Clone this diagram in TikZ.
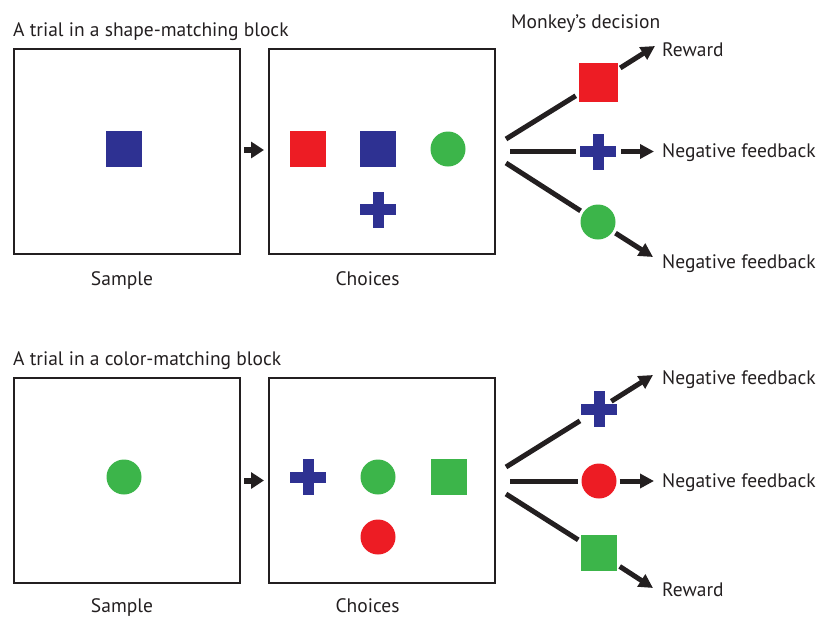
\documentclass[tikz,border=0pt]{standalone}
\usepackage{fontspec}
\setmainfont{PT Sans}
\usetikzlibrary{arrows.meta}
\definecolor{cred}{HTML}{ED1C24}
\definecolor{cblue}{HTML}{2E3192}
\definecolor{cgreen}{HTML}{3CB54A}
\definecolor{ink}{HTML}{231F20}
\begin{document}
\begin{tikzpicture}[x=1pt,y=-1pt,
  panel/.style={draw=ink, line width=2pt, minimum width=226pt, minimum height=205pt, inner sep=0pt},
  sq/.style={fill=#1, minimum size=36pt, inner sep=0pt},
  dot/.style={circle, fill=#1, minimum size=35pt, inner sep=0pt},
  crs/.style={minimum size=36pt, inner sep=0pt,
    path picture={
      \fill[cblue] ([xshift=-5.5pt,yshift=-18pt]path picture bounding box.center) rectangle ++(11pt,36pt);
      \fill[cblue] ([xshift=-18pt,yshift=-5.5pt]path picture bounding box.center) rectangle ++(36pt,11pt);
    }},
  lbl/.style={font=\fontsize{19.5}{23}\selectfont, text=ink, inner sep=0pt, anchor=base west},
  caplbl/.style={font=\fontsize{19.5}{23}\selectfont, text=ink, inner sep=0pt, anchor=base},
  fan/.style={draw=ink, line width=5pt, shorten >=3pt},
  arr/.style={draw=ink, line width=5pt, shorten <=3pt, -{Triangle[length=14pt,width=14pt]}},
  small/.style={draw=ink, line width=6pt, -{Triangle[length=13pt,width=16pt]}, shorten <=3pt, shorten >=3.5pt}
]
\useasboundingbox (0,0) rectangle (826,616);

% ---------- top: shape-matching ----------
\node[lbl] (title1) at (13,36) {A trial in a shape-matching block};
\node[lbl] (monkey) at (511,28) {Monkey’s decision};

\node[panel] (s1) at (127,151.5) {};
\node[panel] (c1) at (381.5,151.5) {};
\node[caplbl] (samp1) at (122,285) {Sample};
\node[caplbl] (choi1) at (367.5,285) {Choices};

\node[sq=cblue] (s1blue) at (124,149) {};
\node[sq=cred] (c1red) at (308,149) {};
\node[sq=cblue] (c1blue) at (378,149) {};
\node[dot=cgreen] (c1green) at (448,149) {};
\node[crs] (c1cross) at (378,209.5) {};

\draw[small] ([yshift=1.5pt]s1.east) -- ([yshift=1.5pt]c1.west);

\coordinate (f1) at (506,139);
\coordinate (f2) at (510,151.5);
\coordinate (f3) at (506,163);
\node[sq=cred, minimum size=39pt] (d1) at (598,82) {};
\node[crs] (d2) at (598,151.5) {};
\node[dot=cgreen] (d3) at (598,222) {};
\coordinate (t1) at (655,46);
\coordinate (t2) at (654,151.5);
\coordinate (t3) at (653,257);
\draw[fan] (f1) -- (d1);
\draw[fan, shorten >=4pt] (f2) -- (d2);
\draw[fan] (f3) -- (d3);
\draw[arr] (d1) -- (t1);
\draw[arr, shorten <=5pt] (d2) -- (t2);
\draw[arr] (d3) -- (t3);
\node[lbl] (r1) at (662,56) {Reward};
\node[lbl] (n1) at (662,157) {Negative feedback};
\node[lbl] (n2) at (662,268) {Negative feedback};

% ---------- bottom: color-matching ----------
\node[lbl] (title2) at (13,365) {A trial in a color-matching block};

\node[panel] (s2) at (127,480.5) {};
\node[panel] (c2) at (381.5,480.5) {};
\node[caplbl] (samp2) at (122,612) {Sample};
\node[caplbl] (choi2) at (367.5,612) {Choices};

\node[dot=cgreen] (s2green) at (124,477) {};
\node[crs] (c2cross) at (308,477) {};
\node[dot=cgreen] (c2green) at (378,477) {};
\node[sq=cgreen] (c2sq) at (449,477) {};
\node[dot=cred] (c2red) at (378,537) {};

\draw[small] (s2.east) -- (c2.west);

\coordinate (g1) at (506,467);
\coordinate (g2) at (510,481);
\coordinate (g3) at (506,494);
\node[crs] (e1) at (599,409) {};
\node[dot=cred] (e2) at (599,481) {};
\node[sq=cgreen] (e3) at (599,553) {};
\coordinate (u1) at (653,375);
\coordinate (u2) at (654,481);
\coordinate (u3) at (653,588);
\draw[fan, shorten >=1pt] (g1) -- (e1);
\draw[fan] (g2) -- (e2);
\draw[fan] (g3) -- (e3);
\draw[arr, shorten <=-7pt] (e1) -- (u1);
\draw[arr] (e2) -- (u2);
\draw[arr] (e3) -- (u3);
\node[lbl] (n3) at (662,384) {Negative feedback};
\node[lbl] (n4) at (662,487) {Negative feedback};
\node[lbl] (r2) at (662,596) {Reward};
\end{tikzpicture}
\end{document}
